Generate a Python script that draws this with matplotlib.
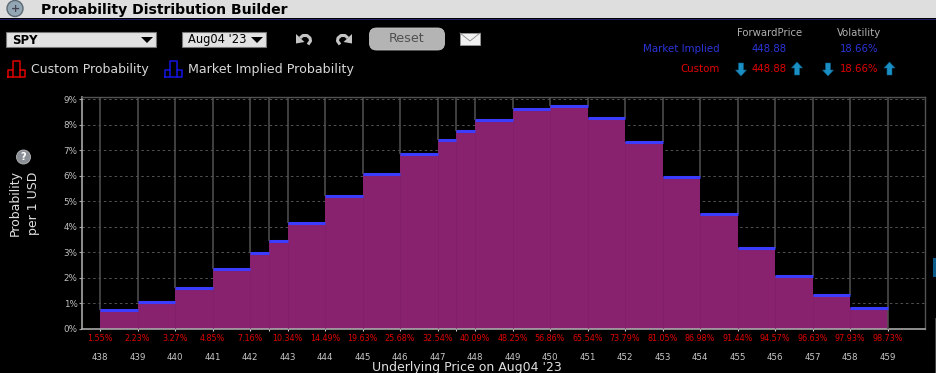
# Probability distribution builder screen
import numpy as np
import matplotlib
matplotlib.use('Agg')
import matplotlib.pyplot as plt
from matplotlib.patches import FancyBboxPatch, Polygon, Rectangle, Circle

W, H = 936, 373

# bin edges and bar heights (percent per 1 USD)
edges = [438, 439, 440, 441, 442, 442.5, 443, 444, 445, 446, 447, 447.5, 448,
         449, 450, 451, 452, 453, 454, 455, 456, 457, 458, 459]
market = [0.73, 1.05, 1.60, 2.33, 2.97, 3.42, 4.15, 5.20, 6.07, 6.85, 7.40, 7.75,
          8.18, 8.62, 8.72, 8.28, 7.33, 5.93, 4.50, 3.15, 2.08, 1.30, 0.80]
prices = list(range(438, 460))
cum_prob = ['1.55%', '2.23%', '3.27%', '4.85%', '7.16%', '10.34%', '14.49%', '19.63%',
            '25.68%', '32.54%', '40.09%', '48.25%', '56.86%', '65.54%', '73.79%',
            '81.05%', '86.98%', '91.44%', '94.57%', '96.63%', '97.93%', '98.73%']
yticks = list(range(0, 10))

PURPLE = '#88216e'
BLUE = '#3c3cff'
RED = '#e00000'
GREY = '#525252'
TICK = '#a8a8a8'

fig = plt.figure(figsize=(W / 100, H / 100), dpi=100, facecolor='black')

# the chart itself
ax = fig.add_axes([82 / W, 1 - 328.5 / H, (925 - 82) / W, (328.5 - 97) / H], facecolor='black')
ax.set_xlim(437.52, 460)
ax.set_ylim(0, 9.09)
ax.hlines(yticks[1:], 437.52, 460, color='#545454', lw=0.7, linestyles=(0, (2.5, 3)), zorder=1)
ax.stairs(market, edges, fill=True, color=PURPLE, zorder=2)
ax.vlines(edges[1:-1], 0, [min(a, b) for a, b in zip(market[:-1], market[1:])],
          color='#801f69', lw=0.5, zorder=3)
tops = [market[0]] + [max(a, b) for a, b in zip(market[:-1], market[1:])] + [0]
ax.vlines(edges, tops, 9.09, color=GREY, lw=1.1, zorder=3)
ax.hlines(market, edges[:-1], edges[1:], color=BLUE, lw=2.2, zorder=4)

ax.set_yticks(yticks)
ax.set_yticklabels([f'{v}%' for v in yticks], color='#c0c0c0', fontsize=6.3)
ax.set_xticks(edges)
ax.set_xticklabels(['' for e in edges])
ax.tick_params(axis='y', length=2.2, width=0.8, color=TICK, pad=1)
ax.tick_params(axis='x', length=1.5, width=0.8, color='#d0d0d0')
for s in ax.spines.values():
    s.set_color(GREY)
    s.set_linewidth(1.0)
ax.spines['left'].set_color(TICK)
ax.spines['bottom'].set_color(TICK)
ax.spines['left'].set_linewidth(1.2)
ax.spines['bottom'].set_linewidth(1.2)

for p, c in zip(prices, cum_prob):
    ax.annotate(c, (p, 0), xycoords=('data', 'axes fraction'), xytext=(0, -10.3 * 0.72),
                textcoords='offset points', ha='center', va='center', color=RED, fontsize=5.8)
    ax.annotate(str(p), (p, 0), xycoords=('data', 'axes fraction'), xytext=(0, -29 * 0.72),
                textcoords='offset points', ha='center', va='center', color='#c8c8c8', fontsize=6.2)

# window furniture, in pixels
ui = fig.add_axes([0, 0, 1, 1], facecolor='none')
ui.set_xlim(0, W)
ui.set_ylim(H, 0)
ui.axis('off')

ui.add_patch(Rectangle((0, 0), W, 18, color='#dedede', lw=0))
ui.plot([0, W], [18.5, 18.5], color='#20206a', lw=0.7)
ui.add_patch(Circle((15, 8.5), 8, fc='#93a6b4', ec='#5c6a75', lw=1))
ui.text(15, 8.5, '+', color='#445', fontsize=8, ha='center', va='center', fontweight='bold')
ui.text(41, 10, 'Probability Distribution Builder', color='black', fontsize=10.05,
        fontweight='bold', va='center')


def dropdown(x0, x1, label, bold, tx, size):
    ui.add_patch(Rectangle((x0, 32), x1 - x0, 15, fc='#e2e2e2', ec='#777777', lw=0.8))
    ui.text(tx, 40, label, color='black', fontsize=size, va='center',
            fontweight='bold' if bold else 'normal')
    ui.add_patch(Polygon([[x1 - 15, 37], [x1 - 3, 37], [x1 - 9, 43]], color='black', lw=0))


dropdown(6, 156, 'SPY', True, 12, 8.5)
dropdown(182, 266, "Aug04 '23", False, 188, 8.3)


def curl(mirror):
    # undo arrow, redo is the same thing flipped
    fx = (lambda x: 648 - x) if mirror else (lambda x: x)
    xs = [300, 303, 307, 310, 310.5, 308]
    ys = [38, 35.5, 35.5, 38, 41, 44.5]
    ui.plot([fx(x) for x in xs], ys, color='#c4c4c4', lw=2.2, solid_capstyle='butt')
    head = [[296, 34], [304.5, 42], [296, 43.5]]
    ui.add_patch(Polygon([[fx(x), y] for x, y in head], color='#c4c4c4', lw=0))


curl(False)
curl(True)

ui.add_patch(FancyBboxPatch((369.5, 28), 75, 22, boxstyle='round,pad=0,rounding_size=7',
                            fc='#b4b4b4', ec='#c4c4c4', lw=0.6))
ui.text(407, 38.5, 'Reset', color='#505050', fontsize=9.2, ha='center', va='center')
ui.add_patch(Rectangle((460, 33), 20, 12, fc='#f0f0f0', ec='#999999', lw=0.6))
ui.plot([460, 470, 480], [33, 41, 33], color='#888888', lw=0.6)


def legend_icon(x, col):
    xs = [x, x, x + 5, x + 5, x + 12, x + 12, x + 17, x + 17, x]
    ys = [77, 69.5, 69.5, 60.5, 60.5, 69.5, 69.5, 77, 77]
    ui.plot(xs, ys, color=col, lw=1.1)
    ui.plot([x + 5, x + 5], [69.5, 77], color=col, lw=1.1)
    ui.plot([x + 12, x + 12], [69.5, 77], color=col, lw=1.1)


legend_icon(8, '#e00000')
ui.text(31, 69.5, 'Custom Probability', color='#d8d8d8', fontsize=9.0, va='center')
legend_icon(165, '#1414e6')
ui.text(188, 69.5, 'Market Implied Probability', color='#d8d8d8', fontsize=9.1, va='center')

ui.text(769.5, 32.5, 'ForwardPrice', color='#b0b0b0', fontsize=7.3, ha='center', va='center')
ui.text(859, 32.5, 'Volatility', color='#b0b0b0', fontsize=7.3, ha='center', va='center')
ui.text(720, 49, 'Market Implied', color='#2a35d8', fontsize=7.4, ha='right', va='center')
ui.text(769.5, 49, '448.88', color='#2a35d8', fontsize=7.3, ha='center', va='center')
ui.text(859, 49, '18.66%', color='#2a35d8', fontsize=7.3, ha='center', va='center')
ui.text(720, 69, 'Custom', color=RED, fontsize=7.4, ha='right', va='center')
ui.text(769.5, 69, '448.88', color=RED, fontsize=7.3, ha='center', va='center')
ui.text(859, 69, '18.66%', color=RED, fontsize=7.3, ha='center', va='center')


def arrow(x, up):
    s = -1 if up else 1
    y = 69
    pts = [[x - 2.5, y - s * 6], [x + 2.5, y - s * 6], [x + 2.5, y + s * 1], [x + 5.5, y + s * 1],
           [x, y + s * 7], [x - 5.5, y + s * 1], [x - 2.5, y + s * 1]]
    ui.add_patch(Polygon(pts, fc='#1a8fc4', ec='#0c5f88', lw=0.4))


arrow(741, False)
arrow(797, True)
arrow(828, False)
arrow(889.5, True)

# y axis title and help icon
ui.text(15.5, 203, 'Probability', color='#e0e0e0', fontsize=9, rotation=90, ha='center', va='center')
ui.text(34, 203, 'per 1 USD', color='#e0e0e0', fontsize=9, rotation=90, ha='center', va='center')
ui.add_patch(Circle((23.5, 157), 7, fc='#8a8f96', ec='#b8b8b8', lw=0.6))
ui.text(23.5, 157, '?', color='white', fontsize=7, ha='center', va='center', fontweight='bold')

ui.text(467, 367, "Underlying Price on Aug04 '23", color='#e0e0e0', fontsize=9,
        ha='center', va='center')

# bits of the next panel at the right edge
ui.add_patch(Rectangle((933, 258), 3, 19, color='#0a5a8a', lw=0))
ui.add_patch(Rectangle((935, 318), 1, 55, color='#444444', lw=0))

fig.savefig('out.png', dpi=100, facecolor='black')
